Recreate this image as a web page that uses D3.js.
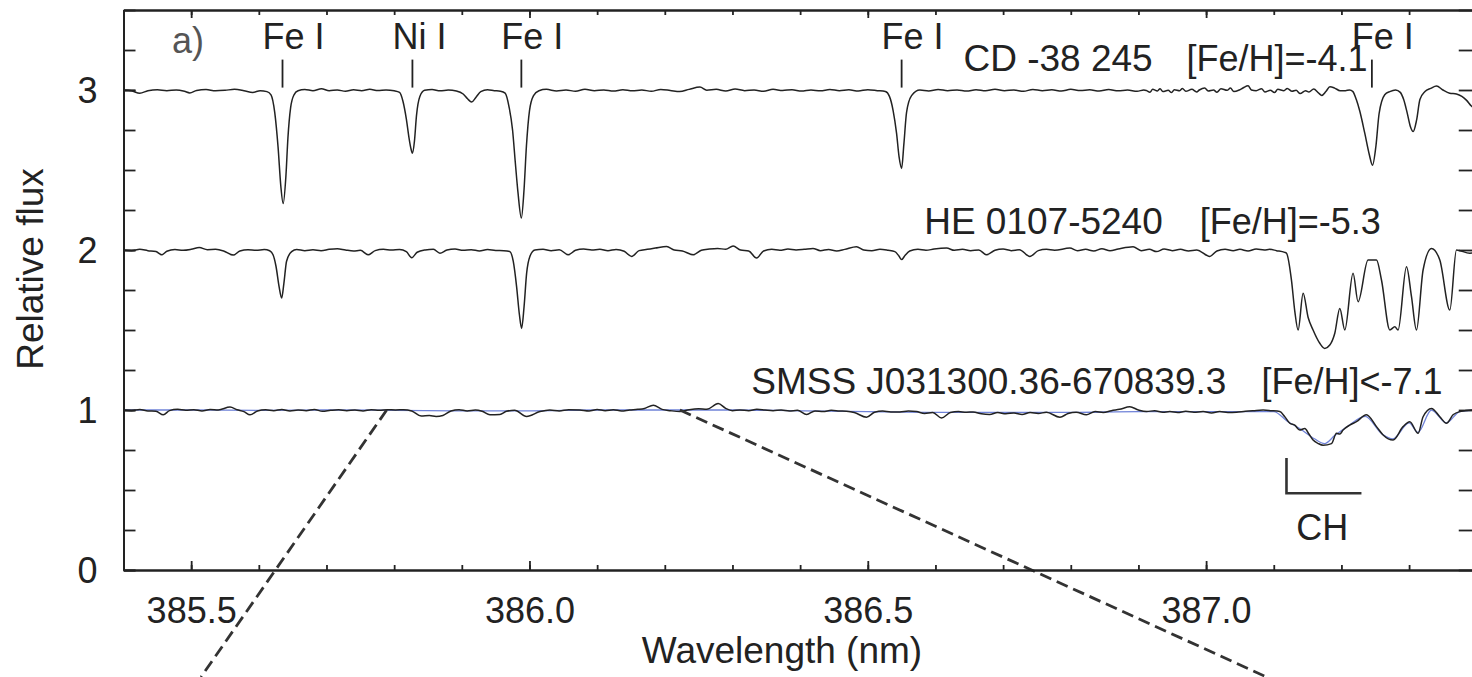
<!DOCTYPE html>
<html><head><meta charset="utf-8">
<script src="https://cdn.jsdelivr.net/npm/d3@7"></script>
<style>
body{margin:0;background:#fff;}
svg{display:block;background:#fff;}
text{font-family:"Liberation Sans",Arial,Helvetica,sans-serif;fill:#222;}
</style></head><body>
<svg id="c" width="1472" height="677"></svg>
<script>
// ---------------- DATA ----------------
// CD -38 245 (offset +2), [wavelength nm, relative flux]
const cdSpectrum = [
[385.400,3.000],[385.412,2.995],[385.424,2.980],[385.436,2.995],[385.450,3.002],[385.464,2.996],[385.478,3.000],[385.490,2.992],[385.498,2.982],[385.508,2.997],[385.522,3.003],[385.536,2.995],[385.550,2.998],[385.564,3.004],[385.578,2.996],[385.591,2.985],[385.602,2.996],[385.612,2.990],
[385.618,2.97],[385.6235,2.86],[385.6285,2.64],[385.6325,2.40],[385.636,2.29],[385.640,2.46],[385.643,2.70],[385.647,2.89],[385.652,2.97],[385.658,2.995],
[385.668,3.003],[385.680,2.996],[385.6926,3.008],[385.704,2.996],[385.716,3.000],[385.728,2.992],[385.740,3.002],[385.752,2.996],[385.764,3.004],[385.776,2.997],[385.788,3.000],[385.800,2.995],[385.808,2.985],
[385.813,2.93],[385.818,2.82],[385.822,2.70],[385.8245,2.64],[385.827,2.605],[385.830,2.68],[385.833,2.84],[385.838,2.96],[385.845,2.998],
[385.856,3.003],[385.868,2.995],[385.880,3.000],[385.892,2.994],[385.902,2.975],[385.9085,2.945],[385.9145,2.925],[385.921,2.955],[385.928,2.99],[385.938,3.002],[385.948,2.996],[385.957,2.992],
[385.964,2.98],[385.970,2.89],[385.975,2.75],[385.979,2.55],[385.983,2.36],[385.988,2.20],[385.992,2.38],[385.9955,2.65],[386.000,2.87],[386.006,2.965],[386.014,2.995],
[386.025,3.004],[386.040,2.994],[386.054,3.000],[386.068,2.992],[386.082,3.004],[386.096,2.996],[386.110,3.000],[386.124,2.993],[386.138,3.002],[386.152,2.995],[386.166,3.000],[386.180,2.992],[386.194,3.003],[386.208,2.997],[386.222,2.990],[386.236,3.004],[386.252,3.018],[386.262,2.998],[386.276,3.004],[386.290,2.994],[386.304,3.006],[386.318,2.996],[386.332,3.000],[386.346,2.992],[386.360,3.004],[386.374,2.997],[386.388,3.002],[386.402,2.993],[386.416,3.000],[386.430,2.995],[386.444,3.003],[386.458,2.996],[386.472,3.001],[386.486,2.994],[386.500,3.002],[386.514,2.996],[386.526,2.990],
[386.532,2.96],[386.5375,2.87],[386.5425,2.73],[386.5463,2.58],[386.550,2.51],[386.5533,2.66],[386.5573,2.86],[386.5647,2.965],[386.577,3.000],
[386.590,2.994],[386.604,3.003],[386.618,2.996],[386.632,3.000],[386.646,2.993],[386.660,3.002],[386.674,2.995],[386.688,3.004],[386.702,2.996],[386.716,3.000],[386.730,2.992],[386.744,3.003],[386.758,2.996],[386.772,3.001],[386.786,2.994],[386.800,3.004],[386.814,2.997],[386.828,3.001],[386.842,2.993],[386.856,3.003],[386.870,2.995],[386.884,3.000],[386.898,2.992],[386.908,3.000],
[386.912,2.996],[386.917,2.986],[386.921,3.004],[386.928,2.994],[386.932,3.008],[386.936,2.990],[386.944,2.998],[386.949,2.984],[386.953,3.002],[386.961,2.996],[386.965,3.010],[386.970,2.992],[386.979,3.004],[386.986,2.988],[386.990,3.000],[386.998,3.012],[387.003,2.994],[387.011,3.000],[387.016,2.986],[387.022,3.008],[387.031,2.998],[387.036,3.012],[387.041,2.990],[387.049,3.000],[387.055,3.014],[387.062,3.026],[387.067,3.000],[387.074,2.996],[387.082,3.008],[387.087,2.988],[387.095,2.998],[387.101,2.984],[387.106,3.004],[387.115,2.996],[387.120,3.010],[387.127,2.992],[387.133,2.998],[387.139,2.978],[387.147,2.996],[387.152,2.988],[387.159,3.006],[387.166,2.982],[387.171,2.966],[387.177,2.990],[387.183,3.020],[387.190,3.012],[387.198,2.996],[387.206,2.996],[387.212,3.000],
[387.217,2.99],[387.222,2.94],[387.227,2.87],[387.2345,2.73],[387.241,2.60],[387.246,2.53],[387.251,2.65],[387.2556,2.85],[387.264,2.97],[387.2715,2.99],[387.280,3.00],[387.287,2.985],[387.292,2.94],[387.297,2.86],[387.302,2.77],[387.306,2.74],[387.311,2.81],[387.316,2.94],[387.3235,2.99],[387.332,3.01],[387.3405,3.025],[387.350,3.00],[387.360,2.98],[387.370,2.975],[387.378,2.96],[387.385,2.935],[387.392,2.90],[387.400,2.88]
];

// HE 0107-5240 (offset +1)
const heSpectrum = [
[385.400,2.000],[385.412,1.995],[385.424,2.004],[385.436,1.996],[385.448,1.990],[385.4564,1.970],[385.464,1.992],[385.476,2.003],[385.488,1.998],[385.500,2.004],[385.512,2.015],[385.524,2.002],[385.536,2.004],[385.548,1.994],[385.5622,1.968],[385.572,1.994],[385.584,2.002],[385.596,1.998],[385.608,2.003],[385.616,1.995],
[385.621,1.97],[385.6253,1.90],[385.630,1.77],[385.6338,1.70],[385.637,1.79],[385.641,1.93],[385.6485,1.99],[385.656,2.003],
[385.668,1.996],[385.680,2.002],[385.692,1.996],[385.704,2.004],[385.716,2.008],[385.728,2.000],[385.740,1.994],[385.750,1.998],[385.7618,1.970],[385.772,1.996],[385.784,2.004],[385.796,2.000],[385.808,2.003],[385.818,1.990],[385.826,1.952],[385.834,1.986],[385.846,2.000],[385.858,2.004],[385.8677,1.980],[385.878,2.000],[385.890,2.006],[385.902,1.998],[385.914,2.002],[385.926,1.994],[385.938,2.003],[385.950,1.997],[385.962,1.996],
[385.971,1.99],[385.976,1.93],[385.981,1.77],[385.985,1.60],[385.9884,1.51],[385.992,1.645],[385.9958,1.855],[386.0006,1.96],[386.008,2.00],
[386.020,2.004],[386.032,1.996],[386.044,2.002],[386.0573,1.970],[386.068,1.998],[386.080,2.006],[386.092,2.000],[386.104,2.004],[386.116,1.996],[386.128,2.003],[386.140,1.992],[386.151,1.960],[386.162,1.996],[386.174,2.004],[386.186,2.012],[386.2027,2.022],[386.214,2.000],[386.226,1.994],[386.242,1.970],[386.254,1.998],[386.266,2.006],[386.278,2.010],[386.290,2.004],[386.301,2.025],[386.312,2.000],[386.324,1.994],[386.3357,1.950],[386.346,1.994],[386.358,2.004],[386.370,1.998],[386.382,2.006],[386.394,2.000],[386.406,2.004],[386.419,2.010],[386.430,1.996],[386.442,2.003],[386.454,1.994],[386.466,2.004],[386.4834,2.020],[386.494,2.000],[386.506,1.996],[386.518,2.004],[386.530,1.998],[386.540,1.990],[386.546,1.962],[386.550,1.940],[386.555,1.966],[386.562,1.994],[386.574,2.004],[386.586,1.998],[386.598,2.006],[386.6164,2.012],[386.628,1.998],[386.640,2.004],[386.652,1.996],[386.664,2.000],[386.6755,1.970],[386.688,1.998],[386.700,2.006],[386.712,1.996],[386.724,2.002],[386.7395,1.960],[386.752,1.996],[386.764,2.004],[386.776,1.998],[386.7986,2.012],[386.810,1.996],[386.822,2.004],[386.834,1.994],[386.846,2.008],[386.858,1.996],[386.870,2.006],[386.8921,2.020],[386.904,1.996],[386.916,2.004],[386.9267,1.990],[386.938,2.006],[386.950,1.996],[386.962,2.004],[386.974,1.994],[386.986,2.000],[387.0055,1.960],[387.016,1.994],[387.028,2.004],[387.040,1.996],[387.050,2.004],[387.062,1.994],[387.074,2.006],[387.086,2.000],[387.094,2.004],[387.104,1.996],[387.1162,1.985],
[387.1188,1.98],[387.1262,1.81],[387.1310,1.62],[387.136,1.50],[387.1434,1.73],[387.1507,1.58],[387.1581,1.50],[387.168,1.417],[387.1754,1.385],[387.1828,1.406],[387.1902,1.48],[387.1976,1.635],[387.205,1.50],[387.2172,1.854],[387.2246,1.677],[387.2394,1.9375],[387.2518,1.9375],[387.2592,1.8125],[387.2715,1.50],[387.2789,1.52],[387.2837,1.50],[387.2962,1.896],[387.3035,1.71],[387.3109,1.50],[387.3207,1.875],[387.3331,2.01],[387.3454,1.9375],[387.3602,1.625],[387.370,2.0],[387.3897,1.98],[387.400,1.985]
];

// SMSS J031300.36-670839.3 observed (no offset)
const smssSpectrum = [
[385.400,1.000],[385.412,0.996],[385.424,1.003],[385.436,0.994],[385.448,0.992],[385.4588,0.970],[385.468,0.996],[385.480,1.004],[385.492,0.998],[385.504,1.002],[385.516,0.994],[385.528,1.003],[385.540,1.000],[385.5574,1.018],[385.568,1.002],[385.578,0.990],[385.587,0.970],[385.598,0.994],[385.610,1.002],[385.622,0.996],[385.634,1.003],[385.646,0.994],[385.658,1.000],[385.670,0.996],[385.682,1.003],[385.694,0.992],[385.706,0.998],[385.718,1.002],[385.730,0.996],[385.742,1.000],[385.754,0.994],[385.766,1.002],[385.778,0.998],[385.790,1.002],[385.802,1.000],[385.814,1.002],[385.826,0.994],[385.840,0.962],[385.852,0.966],[385.862,0.960],[385.872,0.966],[385.884,0.994],[385.896,1.002],[385.908,0.994],[385.920,1.000],[385.930,0.992],[385.9416,0.970],[385.9563,0.972],[385.966,0.992],[385.978,0.998],[385.9958,0.960],[386.0155,0.990],[386.030,1.000],[386.044,0.994],[386.058,1.002],[386.0745,1.000],[386.088,0.994],[386.100,1.003],[386.112,0.996],[386.124,1.002],[386.136,0.994],[386.148,1.000],[386.160,1.004],[386.170,1.010],[386.183,1.030],[386.196,1.004],[386.208,0.996],[386.2223,0.990],[386.236,1.002],[386.250,1.008],[386.262,1.004],[386.2789,1.040],[386.290,1.010],[386.300,0.996],[386.311,1.000],[386.324,0.996],[386.336,1.004],[386.348,1.000],[386.360,0.996],[386.372,1.000],[386.384,0.994],[386.396,0.998],[386.4096,0.972],[386.422,0.994],[386.434,0.990],[386.446,0.998],[386.458,0.994],[386.4686,0.992],[386.480,0.984],[386.4982,0.955],[386.510,0.986],[386.522,0.994],[386.534,0.988],[386.5474,0.988],[386.560,0.994],[386.572,0.990],[386.584,0.978],[386.596,0.984],[386.609,0.950],[386.622,0.984],[386.634,0.990],[386.646,0.986],[386.6557,0.988],[386.668,0.976],[386.680,0.972],[386.692,0.984],[386.704,0.976],[386.716,0.982],[386.728,0.972],[386.740,0.984],[386.752,0.978],[386.764,0.986],[386.784,0.955],[386.796,0.978],[386.808,0.986],[386.823,0.970],[386.836,0.990],[386.848,0.984],[386.860,0.996],[386.872,1.004],[386.8873,1.020],[386.900,1.000],[386.912,0.990],[386.924,0.996],[386.936,0.986],[386.9464,0.990],[386.958,0.984],[386.970,0.992],[386.982,0.986],[386.9956,0.990],[387.008,0.982],[387.020,0.990],[387.032,0.984],[387.0449,0.986],[387.058,0.992],[387.070,0.996],[387.0843,1.000],[387.096,0.996],[387.1089,0.990],
[387.116,0.960],[387.1237,0.917],[387.131,0.905],[387.1385,0.875],[387.1459,0.885],[387.152,0.850],[387.1581,0.8125],[387.166,0.790],[387.1729,0.780],[387.1853,0.790],[387.1927,0.854],[387.1976,0.850],[387.2025,0.875],[387.2123,0.906],[387.2222,0.927],[387.237,0.970],[387.2518,0.896],[387.2616,0.844],[387.2764,0.8125],[387.2911,0.896],[387.301,0.927],[387.3133,0.854],[387.3207,0.958],[387.3331,1.010],[387.3454,0.958],[387.3552,0.917],[387.365,0.970],[387.3749,0.990],[387.3927,1.000],[387.400,1.000]
];

// SMSS model (thin blue curve)
const smssModel = [
[385.40,1.0],[385.50,1.0],[385.60,0.998],[385.70,1.0],[385.80,0.998],[385.90,0.995],[386.00,0.995],[386.10,1.0],[386.20,1.0],[386.30,1.0],[386.40,0.995],[386.50,0.99],[386.60,0.985],[386.70,0.985],[386.80,0.985],[386.90,0.99],[387.00,0.99],[387.10,0.99],[387.12,0.93],[387.14,0.88],[387.16,0.82],[387.175,0.79],[387.19,0.84],[387.21,0.90],[387.235,0.96],[387.26,0.85],[387.276,0.82],[387.30,0.92],[387.313,0.86],[387.333,1.0],[387.355,0.92],[387.375,0.99],[387.40,1.0]
];

// Line identifications
const lineLabels = ["Fe I","Ni I","Fe I","Fe I","Fe I"];
const lineWavelengths = [385.635,385.827,385.988,386.550,387.245];

// Star labels
const starNames = ["CD -38 245","HE 0107-5240","SMSS J031300.36-670839.3"];
const starFeH = ["[Fe/H]=-4.1","[Fe/H]=-5.3","[Fe/H]<-7.1"];

// Axis ticks
const xTickLabels = [385.5,386.0,386.5,387.0];
const yTickLabels = [0,1,2,3];

// Zoom guide lines (to a lower panel)
const zoomGuides = [
  [[385.789,1.0],[385.5145,-0.669]],
  [[386.2223,1.0],[387.0896,-0.669]]
];
// CH band bracket
const chBracket = [[387.1188,0.70],[387.1188,0.48],[387.2296,0.48]];

// ---------------- LAYOUT ----------------
const svg = d3.select("#c");
const x = d3.scaleLinear().domain([385.4,387.4]).range([123.5,1476.75]);
const y = d3.scaleLinear().domain([0,3.5]).range([570,10]);
const FS = 36;

const starLayout = [
  {nameEnd:386.921, fehStart:386.971, base:3.119},
  {nameEnd:386.936, fehStart:386.9906, base:2.10},
  {nameEnd:387.030, fehStart:387.0818, base:1.10}
];

svg.append("defs").append("clipPath").attr("id","plot")
  .append("rect").attr("x",123.5).attr("y",10).attr("width",1476.75-123.5).attr("height",560);

const line = d3.line().x(d=>x(d[0])).y(d=>y(d[1])).curve(d3.curveMonotoneX);
const plot = svg.append("g").attr("clip-path","url(#plot)");

plot.append("path").datum(smssModel).attr("d",line)
  .attr("fill","none").attr("stroke","#6f82d8").attr("stroke-width",1.3);
[cdSpectrum, heSpectrum, smssSpectrum].forEach(s=>{
  plot.append("path").datum(s).attr("d",line)
    .attr("fill","none").attr("stroke","#222").attr("stroke-width",1.5)
    .attr("stroke-linejoin","round");
});

// zoom guide dashed lines
const straight = d3.line().x(d=>x(d[0])).y(d=>y(d[1]));
zoomGuides.forEach(g=>{
  svg.append("path").datum(g).attr("d",straight)
    .attr("fill","none").attr("stroke","#333").attr("stroke-width",2.8)
    .attr("stroke-dasharray","12,6");
});

// Axes
const minorX = d3.range(385.4,387.401,0.1).map(v=>+v.toFixed(1));
const minorY = d3.range(0,3.51,0.25);
function styleAxis(g){
  g.select(".domain").attr("stroke","#222").attr("stroke-width",2);
  g.selectAll(".tick line").attr("stroke","#222").attr("stroke-width",1.8);
}
svg.append("g").attr("transform","translate(0,570)")
  .call(d3.axisBottom(x).tickValues(minorX).tickSize(-5).tickSizeOuter(0).tickFormat(""))
  .call(styleAxis);
const bx = svg.append("g").attr("transform","translate(0,570)")
  .call(d3.axisBottom(x).tickValues(xTickLabels).tickSize(-9).tickSizeOuter(0).tickPadding(27.5).tickFormat(d3.format(".1f")))
  .call(styleAxis);
bx.selectAll("text").attr("font-size",FS).attr("fill","#222");
svg.append("g").attr("transform","translate(0,10)")
  .call(d3.axisTop(x).tickValues(minorX).tickSize(-5).tickSizeOuter(0).tickFormat(""))
  .call(styleAxis);
svg.append("g").attr("transform","translate(0,10)")
  .call(d3.axisTop(x).tickValues(xTickLabels).tickSize(-8).tickSizeOuter(0).tickFormat(""))
  .call(styleAxis);
svg.append("g").attr("transform","translate(123.5,0)")
  .call(d3.axisLeft(y).tickValues(minorY).tickSize(-12).tickSizeOuter(0).tickFormat(""))
  .call(styleAxis);
const ly = svg.append("g").attr("transform","translate(123.5,0)")
  .call(d3.axisLeft(y).tickValues(yTickLabels).tickSize(-12).tickSizeOuter(0).tickPadding(26).tickFormat(d3.format("d")))
  .call(styleAxis);
ly.selectAll("text").attr("font-size",FS).attr("fill","#222").attr("dy","0.36em");
svg.append("g").attr("transform","translate(1476.75,0)")
  .call(d3.axisRight(y).tickValues(minorY).tickSize(-18).tickSizeOuter(0).tickFormat(""))
  .call(styleAxis);

// axis titles
svg.append("text").attr("x",782).attr("y",663).attr("text-anchor","middle")
  .attr("font-size",37).text("Wavelength (nm)");
svg.append("text").attr("transform","translate(43,269) rotate(-90)").attr("text-anchor","middle")
  .attr("font-size",37).text("Relative flux");

// panel label
svg.append("text").attr("x",x(385.4718)).attr("y",y(3.23)).attr("font-size",FS)
  .style("fill","#555").text("a)");

// line IDs
lineWavelengths.forEach((wl,i)=>{
  svg.append("line").attr("x1",x(wl)).attr("x2",x(wl)).attr("y1",y(3.19)).attr("y2",y(3.015))
    .attr("stroke","#222").attr("stroke-width",1.8);
  svg.append("text").attr("x",x(wl)).attr("dx",-20).attr("y",y(3.256))
    .attr("font-size",FS).text(lineLabels[i]);
});

// star labels
starNames.forEach((n,i)=>{
  const L = starLayout[i];
  svg.append("text").attr("x",x(L.nameEnd)).attr("y",y(L.base)).attr("text-anchor","end")
    .attr("font-size",37).text(n);
  svg.append("text").attr("x",x(L.fehStart)).attr("y",y(L.base))
    .attr("font-size",FS).text(starFeH[i]);
});

// CH bracket
svg.append("path").datum(chBracket).attr("d",straight).attr("fill","none")
  .attr("stroke","#333").attr("stroke-width",2.6);
svg.append("text").attr("x",x(387.1717)).attr("y",y(0.1875)).attr("text-anchor","middle")
  .attr("font-size",FS).text("CH");
</script>
</body></html>
